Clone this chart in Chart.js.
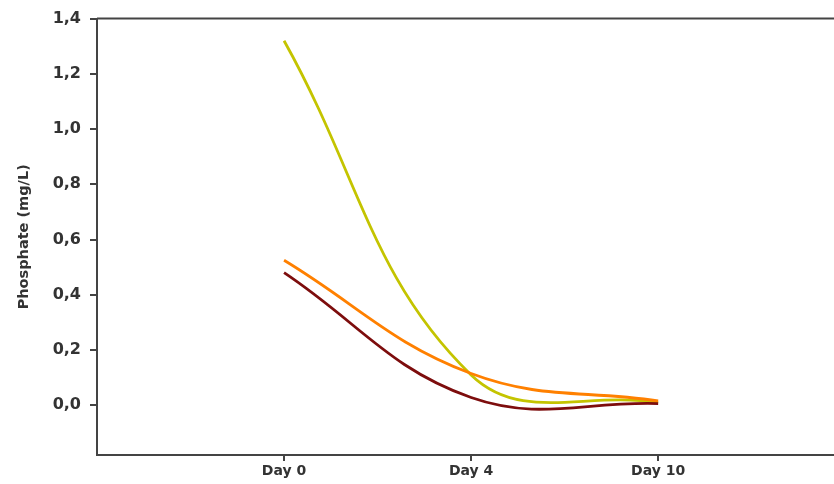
<!DOCTYPE html>
<html>
<head>
<meta charset="utf-8">
<script src="https://cdn.jsdelivr.net/npm/chart.js@4.4.1/dist/chart.umd.min.js"></script>
<style>
  html, body { margin: 0; padding: 0; background: #fff; }
  #wrap { width: 834px; height: 484px; }
</style>
</head>
<body>
<div id="wrap"><canvas id="phosChart" width="834" height="484"></canvas></div>
<script>
// Data punya grafik
const dayLabels = ['Day 0', 'Day 4', 'Day 10'];
const dayIndex = [0, 1, 2];
const seriesGreen = [1.32, 0.11, 0.01];
const seriesOrange = [0.525, 0.115, 0.016];
const seriesDarkRed = [0.48, 0.028, 0.006];
const yTicks = [0, 0.2, 0.4, 0.6, 0.8, 1.0, 1.2, 1.4];

const axisColor = '#444';
const textColor = '#333';

function toPoints(values) {
    return values.map(function (v, i) { return { x: dayIndex[i], y: v }; });
}

// Garis atas kotak grafik
const topBorder = {
    id: 'topBorder',
    afterDraw: function (chart) {
        const c = chart.ctx, a = chart.chartArea;
        c.save();
        c.strokeStyle = axisColor;
        c.lineWidth = 2;
        c.beginPath();
        c.moveTo(a.left, a.top);
        c.lineTo(chart.width, a.top);
        c.stroke();
        c.restore();
    }
};

const ctx = document.getElementById('phosChart').getContext('2d');
new Chart(ctx, {
    type: 'line',
    data: {
        datasets: [
            { data: toPoints(seriesDarkRed), borderColor: '#7d0d0d', borderWidth: 2.8 },
            { data: toPoints(seriesOrange), borderColor: '#ff8000', borderWidth: 2.8 },
            { data: toPoints(seriesGreen), borderColor: '#c4c400', borderWidth: 2.8 }
        ]
    },
    plugins: [topBorder],
    options: {
        responsive: false,
        animation: false,
        devicePixelRatio: 1,
        layout: { padding: { top: 17, left: 0, right: 0, bottom: 0 } },
        elements: {
            line: { tension: 0.4, fill: false },
            point: { radius: 0 }
        },
        plugins: {
            legend: { display: false },
            tooltip: { enabled: false }
        },
        scales: {
            x: {
                type: 'linear',
                min: -1,
                max: 2.94,
                afterBuildTicks: function (scale) {
                    scale.ticks = dayIndex.map(function (v) { return { value: v }; });
                },
                afterFit: function (scale) { scale.height = 29; },
                ticks: {
                    color: textColor,
                    font: { family: 'DejaVu Sans', size: 14, weight: 'bold' },
                    padding: 2,
                    maxRotation: 0,
                    callback: function (v) { return dayLabels[v]; }
                },
                grid: { drawOnChartArea: false, tickLength: 6, color: axisColor, lineWidth: 2 },
                border: { color: axisColor, width: 2 }
            },
            y: {
                min: -0.18,
                max: 1.4,
                afterBuildTicks: function (scale) {
                    scale.ticks = yTicks.map(function (v) { return { value: v }; });
                },
                afterFit: function (scale) { scale.width = 97; },
                ticks: {
                    color: textColor,
                    font: { family: 'DejaVu Sans', size: 16, weight: 'bold' },
                    padding: 9,
                    callback: function (v) { return v.toFixed(1).replace('.', ','); }
                },
                grid: { drawOnChartArea: false, tickLength: 7, color: axisColor, lineWidth: 2 },
                border: { color: axisColor, width: 2 },
                title: {
                    display: true,
                    text: 'Phosphate (mg/L)',
                    color: textColor,
                    font: { family: 'DejaVu Sans', size: 14.5, weight: 'bold' },
                    padding: { top: 16, bottom: 0 }
                }
            }
        }
    }
});
</script>
</body>
</html>
